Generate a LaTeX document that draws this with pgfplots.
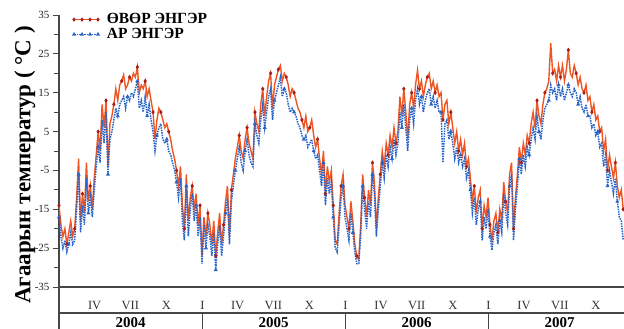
\documentclass[border=0pt]{standalone}
\usepackage{fontspec}
\setmainfont{Liberation Serif}
\usepackage{pgfplots}
\pgfplotsset{compat=1.18}
\usepackage{pgfplotstable}
\definecolor{redser}{RGB}{238,85,35}
\definecolor{redmk}{RGB}{170,30,25}
\definecolor{blueser}{RGB}{40,100,200}
\definecolor{axgray}{RGB}{70,70,70}

\pgfplotstableread{
d r b
0 -14 -17
5 -19 -22
10 -22 -25
15 -20 -23
20 -24 -26
25 -21 -24
30 -18 -21
35 -22 -24
40 -20 -23
45 -12 -15
50 -2 -6
55 -18 -21
60 -11 -14
65 -16 -19
70 -3 -7
75 -13 -16
80 -9 -12
85 -15 -17
90 -7 -10
95 -1 -4
100 5 1
105 0 -3
110 12 8
115 6 2
120 13 10
125 -4 -6
130 7 3
135 9 5
140 12 8
145 16 11
150 13 9
155 17 12
160 18 13
165 19.6 14
170 16 11
175 17 14
180 19 13
185 18 15
190 20 14
195 19 16
200 21.6 18
205 15 11
210 17 13
215 16 10
220 18 14
225 14 9
230 16 12
235 13 8
240 10 5
245 3 0
250 8 4
255 11 6
260 10 7
265 8 3
270 6 2
275 7 3
280 5 0
285 3 -1
290 0 -3
295 -2 -5
300 -5 -8
305 -9 -12
310 -4 -7
315 -14 -18
320 -20 -23
325 -6 -9
330 -18 -22
335 -12 -15
340 -9 -11
345 -15 -18
350 -11 -14
355 -19 -22
360 -14 -17
365 -27 -29
370 -17 -19
375 -22 -25
380 -16 -19
385 -19 -22
390 -24 -27
395 -18 -21
400 -27 -30.6
405 -21 -24
410 -16 -19
415 -24 -27
420 -19 -22
425 -13 -16
430 -9 -12
435 -22 -24
440 -10 -13
445 -6 -9
450 -2 -5
455 1 -2
460 4 1
465 0 -3
470 -2 -5
475 3 0
480 6 3
485 2 -1
490 0 -3
495 -2 -4
500 10 7
505 7 4
510 5 2
515 12 8
520 16 12
525 9 6
530 14 10
535 18 14
540 20 16
545 11 8
550 17 13
555 19 15
560 21 17
565 22 19
570 18 14
575 20 16
580 19 15
585 17 12
590 14 10
595 16 11
600 15 10
605 13 9
610 11 7
615 10 6
620 8 4
625 6 3
630 9 4
635 5 1
640 6 2
645 8 3
650 4 0
655 1 -2
660 3 -1
665 -2 -5
670 -6 -9
675 0 -3
680 -11 -14
685 -4 -7
690 -8 -11
695 -5 -8
700 -14 -17
705 -23 -25
710 -24 -26
715 -16 -19
720 -9 -12
725 -6 -9
730 -14 -17
735 -17 -20
740 -20 -23
745 -13 -16
750 -18 -21
755 -24 -26
760 -27 -29
765 -28 -29
770 -19 -22
775 -6 -9
780 -12 -15
785 -17 -20
790 -10 -13
795 -14 -17
800 -3 -6
805 -8 -11
810 -20 -22
815 -12 -15
820 -6 -9
825 0 -3
830 -4 -7
835 2 -1
840 -1 -4
845 4 1
850 1 -2
855 6 3
860 2 -1
865 5 2
870 14 10
875 9 6
880 16 12
885 10 6
890 3 0
895 12 8
900 15 11
905 11 7
910 17 13
915 20.8 16
920 16 12
925 18 14
930 14 10
935 17 13
940 19 15
945 20 16
950 16 12
955 18 14
960 15 11
965 17 13
970 14 10
975 15 10
980 8 -3
985 12 7
990 13 8
995 7 3
1000 10 5
1005 6 2
1010 2 -2
1015 5 1
1020 0 -3
1025 3 -1
1030 -1 -4
1035 2 -2
1040 -4 -7
1045 -2 -5
1050 -7 -10
1055 -13 -16
1060 -9 -12
1065 -16 -19
1070 -12 -15
1075 -10 -13
1080 -20 -23
1085 -14 -17
1090 -17 -20
1095 -12 -15
1100 -19 -22
1105 -23 -25.5
1110 -18 -21
1115 -16 -19
1120 -21 -24
1125 -15 -18
1130 -18 -21
1135 -8 -11
1140 -13 -16
1145 -16 -19
1150 -6 -9
1155 -3 -6
1160 -20 -23
1165 -12 -15
1170 -6 -9
1175 1 -2
1180 -3 -6
1185 2 -1
1190 -1 -4
1195 4 1
1200 2 -1
1205 7 3
1210 10 6
1215 6 3
1220 13 9
1225 9 5
1230 7 3
1235 12 8
1240 15 11
1245 16 12
1250 18 13
1255 27.8 17
1260 20 15
1265 21 16
1270 18 13
1275 22 17
1280 19 14
1285 22 16
1290 18 13
1295 21 15
1300 26 17
1305 20 15
1310 19 14
1315 22 16
1320 20 15
1325 17 12
1330 19 14
1335 16 11
1340 15 10
1345 17 12
1350 13 9
1355 14 9
1360 10 6
1365 12 7
1370 8 4
1375 9 5
1380 5 1
1385 6 2
1390 0 -4
1395 3 -1
1400 -5 -9
1405 -1 -5
1410 -4 -8
1415 -7 -11
1420 -3 -7
1425 -9 -13
1430 -12 -17
1435 -10 -18
1440 -15 -23
}\datatab

\begin{document}
\begin{tikzpicture}
\begin{axis}[
  at={(0,0)}, anchor=south west,
  scale only axis, width=565pt, height=272pt,
  xmin=0, xmax=1442, ymin=-35, ymax=35,
  axis lines*=left,
  axis line style={axgray, line width=1.1pt},
  ytick={-35,-25,...,35},
  minor ytick={-30,-20,...,30},
  tick align=outside,
  major tick length=6pt, minor tick length=5pt,
  ytick style={axgray, line width=0.8pt},
  yticklabel style={font=\fontsize{11}{11}\selectfont, text=black!85},
  /pgf/number format/assume math mode=true,
  xtick={91,182,274,366,456,547,639,731,822,913,1005,1096,1187,1278,1370},
  xticklabels={IV,VII,X,I,IV,VII,X,I,IV,VII,X,I,IV,VII,X},
  xtick style={draw=none},
  xticklabel style={font=\fontsize{12.5}{12.5}\selectfont, anchor=base, yshift=-16.5pt, text=black!80},
  legend style={at={(rel axis cs:0,1)}, xshift=14pt, yshift=1.5pt, anchor=north west, draw=none, fill=none,
    inner sep=0pt, row sep=3pt, column sep=8pt, nodes={inner sep=0pt},
    font=\bfseries\fontsize{15.5}{15.5}\selectfont, cells={anchor=west}},
  legend cell align=left,
  legend image code/.code={\draw[#1, mark repeat=1] plot coordinates {(0pt,0pt) (8pt,0pt) (16pt,0pt) (24pt,0pt)};},
]
\addplot[redser, line width=1.4pt, mark=diamond*, mark size=1.1pt, mark repeat=4,
  mark options={redmk, solid, fill=redmk}] table[x=d,y=r]{\datatab};
\addlegendentry{ӨВӨР ЭНГЭР}
\addplot[blueser, line width=1.5pt, densely dotted, mark=triangle*, mark size=0.9pt, mark repeat=5,
  mark options={blueser, solid, fill=blueser}] table[x=d,y=b]{\datatab};
\addlegendentry{АР ЭНГЭР}
\coordinate (s1) at (axis cs:366,-35);
\coordinate (s2) at (axis cs:731,-35);
\coordinate (s3) at (axis cs:1096,-35);
\coordinate (c1) at (axis cs:183,-35);
\coordinate (c2) at (axis cs:548,-35);
\coordinate (c3) at (axis cs:913,-35);
\coordinate (c4) at (axis cs:1278,-35);
\end{axis}
\draw[axgray, line width=1.2pt] (0,-26pt) -- (565pt,-26pt);
\draw[axgray, line width=1.1pt] (0,0) -- (0,-46pt);
\foreach \s in {s1,s2,s3} \draw[axgray, line width=1pt] ([yshift=-26pt]\s) -- ([yshift=-46pt]\s);
\foreach \c/\y in {c1/2004,c2/2005,c3/2006,c4/2007}
  \node[anchor=base, font=\bfseries\fontsize{15}{15}\selectfont, inner sep=0pt] at ([yshift=-40.5pt]\c) {\y};
\node[rotate=90, anchor=center, font=\bfseries\fontsize{23}{23}\selectfont, inner sep=0pt] at (-34pt,122pt) {Агаарын температур ( °C )};
\pgfresetboundingbox
\path (-59pt,-42pt) rectangle (565pt,287pt);
\end{tikzpicture}
\end{document}
